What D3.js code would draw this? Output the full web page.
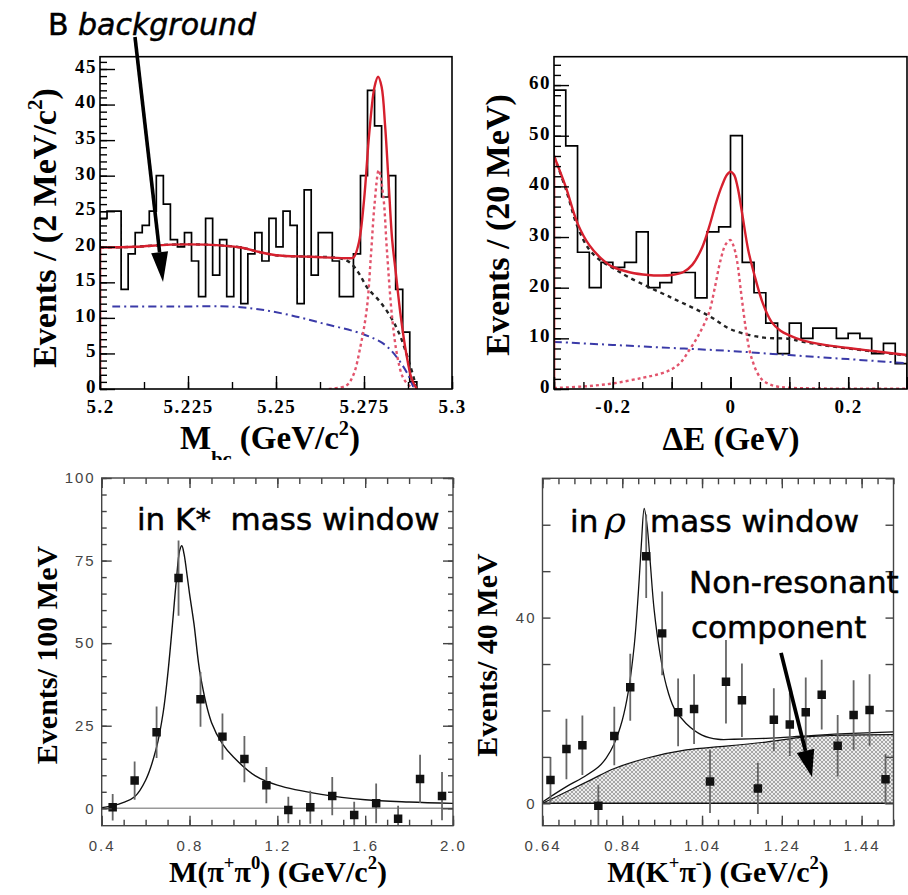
<!DOCTYPE html>
<html>
<head>
<meta charset="utf-8">
<script src="https://cdn.jsdelivr.net/npm/d3@7"></script>
<style>
  body { margin: 0; background: #fff; }
  svg { display: block; }
  text { white-space: pre; }
  .serif { font-family: "Liberation Serif", "Times New Roman", serif; font-weight: bold; }
  .hand { font-family: "DejaVu Sans", sans-serif; stroke: #000; stroke-width: 0.5; }
</style>
</head>
<body>
<svg id="chart" width="908" height="895"></svg>
<script>
// ---------- data ----------

// top left: Mbc histogram, 2 MeV bins from 5.200
const mbcCounts = [24, 25, 25, 14, 19, 22, 23, 25, 30, 26, 21, 20, 22, 18, 13, 24, 16, 21, 13, 20,
                   12, 19, 22, 18, 24, 20, 25, 23, 12, 28, 16, 22, 22, 18, 13, 13, 19, 30, 42, 37,
                   27, 30, 14, 8, 1];
const mbcFitX   = [5.2, 5.21, 5.22, 5.23, 5.24, 5.245, 5.25, 5.26, 5.27, 5.272, 5.2735, 5.275, 5.2765,
                   5.278, 5.279, 5.28, 5.281, 5.282, 5.283, 5.284, 5.2855, 5.287, 5.2885, 5.29];
const mbcFit    = [19.9, 20.0, 20.3, 20.3, 19.9, 19.3, 18.8, 18.6, 18.4, 18.5, 20.5, 26.5, 36,
                   42.5, 43.9, 42.5, 37, 29, 21, 16.5, 10, 5, 1.5, 0];
const mbcBkgX   = [5.2, 5.21, 5.22, 5.23, 5.24, 5.245, 5.25, 5.26, 5.268, 5.271, 5.2735, 5.276,
                   5.2795, 5.2825, 5.285, 5.288, 5.29];
const mbcBkg    = [19.9, 20.0, 20.3, 20.3, 19.9, 19.3, 18.8, 18.6, 18.4, 17.8, 16.3, 14.2,
                   12.3, 10.2, 7.8, 3.5, 0];
const mbcBBkgX  = [5.2035, 5.22, 5.24, 5.252, 5.2635, 5.2748, 5.281, 5.285, 5.2875, 5.289];
const mbcBBkg   = [11.6, 11.6, 11.5, 10.6, 9.2, 7.7, 6.2, 4.0, 2.0, 0.3];
const mbcSigX   = [5.265, 5.27, 5.272, 5.274, 5.2758, 5.277, 5.278, 5.2792, 5.2805, 5.2815, 5.283,
                   5.2845, 5.286, 5.2876, 5.289];
const mbcSig    = [0, 0.5, 2.0, 6.0, 11.3, 19, 26, 30.8, 27, 19.6, 10, 4.5, 1.7, 0.6, 0.1];

// top right: Delta E histogram, 20 MeV bins from -0.30
const deCounts = [59, 48, 27, 20, 25, 24, 25, 31, 20, 21, 23, 23, 18, 31, 32, 50, 25, 19, 13, 7,
                  13, 10, 12, 12, 10, 11, 10, 7, 9, 5];
const deFitX  = [-0.3, -0.28, -0.26, -0.24, -0.22, -0.2, -0.17, -0.14, -0.12, -0.10, -0.08, -0.065,
                 -0.048, -0.035, -0.025, -0.015, -0.006, 0, 0.006, 0.012, 0.02, 0.03, 0.04, 0.055,
                 0.07, 0.085, 0.10, 0.12, 0.16, 0.2, 0.25, 0.3];
const deFit   = [46, 39.9, 32.7, 28.4, 25.8, 24.1, 23.0, 22.5, 22.4, 22.5, 23.1, 24.5,
                 28, 32.5, 36.6, 40, 42.3, 42.9, 42.3, 39.9, 34.5, 27.5, 22.8, 16.9,
                 13.2, 11.5, 10.6, 9.7, 8.7, 8.1, 7.4, 6.7];
const deBkgX  = [-0.3, -0.28, -0.26, -0.24, -0.22, -0.2, -0.172, -0.1, -0.036, 0, 0.053, 0.1, 0.12,
                 0.16, 0.2, 0.25, 0.3];
const deBkg   = [46, 39.5, 32, 27.5, 25.3, 23.9, 22, 18, 14.4, 11.8, 10.2, 9.9, 9.4,
                 8.6, 8.0, 7.3, 6.6];
const deBBkgX = [-0.3, -0.2, -0.1, 0, 0.1, 0.2, 0.3];
const deBBkg  = [9.3, 8.7, 8.1, 7.5, 6.7, 5.9, 5.1];
const deSigX  = [-0.3, -0.25, -0.2, -0.15, -0.12, -0.1, -0.085, -0.07, -0.055, -0.037, -0.027, -0.017,
                 -0.008, 0, 0.005, 0.011, 0.018, 0.0255, 0.032, 0.037, 0.045, 0.054, 0.065, 0.079,
                 0.1, 0.15, 0.3];
const deSig   = [0.2, 0.5, 1.1, 2.2, 3.0, 3.9, 5.2, 7.7, 10.5, 14.9, 19.8, 25.4,
                 28.6, 29.4, 28.3, 25.4, 19, 12.3, 7.8, 5.7, 3.3, 1.8, 1.0, 0.5,
                 0.25, 0.1, 0.05];

// bottom left: M(pi+ pi0) in K* window
const pipiMass = [0.45, 0.55, 0.65, 0.75, 0.85, 0.95, 1.05, 1.15, 1.25, 1.35, 1.45, 1.55, 1.65, 1.75, 1.85, 1.95];
const pipiYield = [0.3, 8.4, 23, 69.7, 33, 21.7, 14.9, 7, -0.5, 0.3, 3.7, -2, 1.5, -3.2, 8.9, 3.7];
const pipiErr   = [4, 5.8, 7.8, 11.4, 8.3, 7, 7, 5.5, 4, 5, 5.8, 4, 6, 4, 7.3, 7.3];
const pipiFitX  = [0.4, 0.45, 0.5, 0.55, 0.6, 0.65, 0.68, 0.70, 0.72, 0.74, 0.755, 0.765, 0.775, 0.79,
                   0.8, 0.82, 0.85, 0.9, 0.95, 1.0, 1.1, 1.2, 1.4, 1.6, 1.8, 2.0];
const pipiFit   = [0.2, 0.8, 1.8, 3.5, 8.5, 18.5, 29, 40, 54, 69, 78, 79.5, 77, 70,
                   65, 56, 40, 26, 19.5, 15.5, 9.8, 7, 4.2, 2.6, 1.9, 1.5];

// bottom right: M(K+ pi-) in rho window
const kpiMass = [0.66, 0.70, 0.74, 0.78, 0.82, 0.86, 0.90, 0.94, 0.98, 1.02, 1.06, 1.10, 1.14, 1.18,
                 1.22, 1.26, 1.30, 1.34, 1.38, 1.42, 1.46, 1.50];
const kpiYield = [5.0, 11.7, 12.5, -0.5, 14.5, 25, 53.2, 36.6, 19.6, 20.3, 4.7, 26.2, 22.2, 3.2,
                  18, 17, 19.6, 23.4, 12.4, 19, 20.1, 5.2];
const kpiErr   = [5, 6.5, 6.4, 4.5, 6.3, 7.2, 9, 9, 7.3, 7.5, 6.8, 9, 7.9, 5.5,
                  6.8, 6.8, 7.5, 7.5, 6.6, 7.5, 7.7, 5.4];
const kpiFitX  = [0.64, 0.70, 0.74, 0.78, 0.80, 0.82, 0.84, 0.855, 0.87, 0.88, 0.888, 0.895, 0.902,
                  0.91, 0.92, 0.935, 0.95, 0.97, 1.0, 1.04, 1.08, 1.12, 1.2, 1.3, 1.4, 1.52];
const kpiFit   = [0.3, 3.6, 5.5, 7.8, 9.8, 12.9, 17.9, 24, 34, 45, 56, 63.5, 60,
                  52, 41.6, 32, 25.5, 20.5, 17.2, 14.7, 13.8, 13.8, 14.0, 14.5, 15.0, 15.4];
const kpiNonResX = [0.64, 0.7, 0.76, 0.82, 0.9, 1.0, 1.1, 1.2, 1.3, 1.4, 1.52];
const kpiNonRes  = [0, 2.5, 5, 7.5, 9.7, 11.5, 12.3, 13.2, 14.3, 14.7, 14.8];

// ---------- drawing ----------
const svg = d3.select("#chart");
const defs = svg.append("defs");

const red = "#d6202e", pink = "#e2546c", dark = "#222", blue = "#3a3aa8";

const hatch = defs.append("pattern").attr("id", "hatch")
  .attr("patternUnits", "userSpaceOnUse").attr("width", 4).attr("height", 4);
hatch.append("rect").attr("width", 4).attr("height", 4).attr("fill", "#ececec");
hatch.append("path").attr("d", "M0,0L4,4M4,0L0,4M-1,3L1,5M3,-1L5,1")
  .attr("stroke", "#777").attr("stroke-width", 0.6);

function makePanel(o) {
  const x = d3.scaleLinear().domain(o.xDomain).range([o.left, o.right]);
  const y = d3.scaleLinear().domain(o.yDomain).range([o.bottom, o.top]);
  defs.append("clipPath").attr("id", o.id + "-clip").append("rect")
    .attr("x", o.left).attr("y", o.top)
    .attr("width", o.right - o.left).attr("height", o.bottom - o.top);
  const g = svg.append("g");
  const plot = g.append("g").attr("clip-path", `url(#${o.id}-clip)`);
  return Object.assign({x, y, g, plot}, o);
}

// inward ticks; labelled ones get a font set directly on the group
function ticks(p, side, values, len, fmt, pad, font, color) {
  const s = (side === "left" || side === "right") ? p.y : p.x;
  const axisFn = {left: d3.axisLeft, right: d3.axisRight, top: d3.axisTop, bottom: d3.axisBottom}[side];
  const axis = axisFn(s).tickValues(values).tickSizeInner(-len).tickSizeOuter(0)
    .tickPadding(pad || 3).tickFormat(fmt || "");
  const pos = {left: [p.left, 0], right: [p.right, 0], top: [0, p.top], bottom: [0, p.bottom]}[side];
  const ag = p.g.append("g").attr("transform", `translate(${pos})`).call(axis);
  ag.select(".domain").remove();
  ag.selectAll("line").attr("stroke", color || "#000").attr("stroke-width", 1.4);
  if (font) {
    ag.attr("font-family", font.family).attr("font-size", font.size).attr("font-weight", font.weight)
      .attr("letter-spacing", font.spacing);
    ag.selectAll("text").attr("fill", color || "#000");
  }
  return ag;
}

const serifTick = {family: "Liberation Serif", size: 19, weight: "bold", spacing: 1.5};
const sansTick = {family: "Liberation Sans", size: 15, weight: "normal", spacing: 2};

function frame(p, color, w) {
  p.g.append("rect").attr("x", p.left).attr("y", p.top)
    .attr("width", p.right - p.left).attr("height", p.bottom - p.top)
    .attr("fill", "none").attr("stroke", color).attr("stroke-width", w);
}

function curve(p, xs, ys, color, width, dash) {
  const line = d3.line().x(d => p.x(d[0])).y(d => p.y(d[1])).curve(d3.curveCatmullRom.alpha(0.5));
  p.plot.append("path").attr("d", line(d3.zip(xs, ys)))
    .attr("fill", "none").attr("stroke", color).attr("stroke-width", width)
    .attr("stroke-dasharray", dash || null).attr("stroke-linejoin", "round");
}

function hist(p, start, width, counts) {
  const pts = [[start, 0]];
  counts.forEach((c, i) => pts.push([start + i * width, c]));
  pts.push([start + counts.length * width, counts[counts.length - 1]]);
  pts.push([start + counts.length * width, 0]);
  const line = d3.line().x(d => p.x(d[0])).y(d => p.y(d[1])).curve(d3.curveStepAfter);
  p.plot.append("path").attr("d", line(pts))
    .attr("fill", "none").attr("stroke", "#000").attr("stroke-width", 1.7);
}

function points(p, xs, ys, errs) {
  const data = d3.zip(xs, ys, errs);
  p.plot.selectAll(null).data(data).join("line")
    .attr("x1", d => p.x(d[0])).attr("x2", d => p.x(d[0]))
    .attr("y1", d => p.y(d[1] - d[2])).attr("y2", d => p.y(d[1] + d[2]))
    .attr("stroke", "#666").attr("stroke-width", 1.8);
  p.plot.selectAll(null).data(data).join("path")
    .attr("d", d3.symbol(d3.symbolSquare, 72))
    .attr("transform", d => `translate(${p.x(d[0])},${p.y(d[1])})`)
    .attr("fill", "#111");
}

// text with super/subscripts
function rich(parent, parts, fs, cls, subShift) {
  const t = parent.append("text").attr("class", cls).attr("font-size", fs);
  let shift = 0;
  parts.forEach(part => {
    const target = part.sup ? -0.42 * fs : part.sub ? (subShift || 0.3) * fs : 0;
    const ts = t.append("tspan").attr("dy", target - shift).text(part.t);
    if (part.sup || part.sub) ts.attr("font-size", fs * 0.62);
    shift = target;
  });
  return t;
}

function arrow(p, from, to, width, headLen, headHalf) {
  const x1 = p.x(from[0]), y1 = p.y(from[1]), x2 = p.x(to[0]), y2 = p.y(to[1]);
  const a = Math.atan2(y2 - y1, x2 - x1);
  const bx = x2 - headLen * Math.cos(a), by = y2 - headLen * Math.sin(a);
  const nx = -Math.sin(a) * headHalf, ny = Math.cos(a) * headHalf;
  svg.append("line").attr("x1", x1).attr("y1", y1).attr("x2", bx).attr("y2", by)
    .attr("stroke", "#000").attr("stroke-width", width);
  svg.append("path").attr("d", `M${x2},${y2}L${bx + nx},${by + ny}L${bx - nx},${by - ny}Z`)
    .attr("fill", "#000");
}

// ---- panel 1: Mbc ----
const p1 = makePanel({id: "p1", xDomain: [5.2, 5.3], yDomain: [0, 46.73],
                      left: 100, right: 452, top: 56.7, bottom: 389});
hist(p1, 5.2, 0.002, mbcCounts);
curve(p1, mbcBBkgX, mbcBBkg, blue, 2, "8,4,2,4");
curve(p1, mbcBkgX, mbcBkg, dark, 2.4, "4,4");
curve(p1, mbcSigX, mbcSig, pink, 2.4, "3,3");
curve(p1, [5.2, 5.2], [0, mbcFit[0]], red, 2.6);
curve(p1, mbcFitX, mbcFit, red, 2.4);
frame(p1, "#000", 1.6);
ticks(p1, "left", d3.range(0, 47, 1), 7);
ticks(p1, "left", d3.range(0, 46, 5), 15, d => d, 3, serifTick)
  .selectAll("text").attr("dy", "0.18em");
ticks(p1, "bottom", d3.range(0, 9).map(i => 5.2 + i * 0.0125), 7);
ticks(p1, "bottom", [5.2, 5.225, 5.25, 5.275, 5.3], 13, d => String(d), 11, serifTick);

rich(p1.g, [{t: "Events / (2 MeV/c"}, {t: "2", sup: true}, {t: ")"}], 34, "serif")
  .attr("text-anchor", "middle").attr("transform", "translate(56,228) rotate(-90)");
defs.append("clipPath").attr("id", "mbc-title-clip").append("rect")
  .attr("x", 0).attr("y", 400).attr("width", 454).attr("height", 60);
rich(p1.g, [{t: "M"}, {t: "bc", sub: true}, {t: " (GeV/c"}, {t: "2", sup: true}, {t: ")"}], 33, "serif", 0.5)
  .attr("text-anchor", "middle").attr("x", 270).attr("y", 449)
  .attr("clip-path", "url(#mbc-title-clip)");

// ---- panel 2: Delta E ----
const p2 = makePanel({id: "p2", xDomain: [-0.3, 0.3], yDomain: [0, 65.6],
                      left: 554, right: 907, top: 56.7, bottom: 389});
hist(p2, -0.3, 0.02, deCounts);
curve(p2, deBBkgX, deBBkg, blue, 2, "8,4,2,4");
curve(p2, deBkgX, deBkg, dark, 2.4, "4,4");
curve(p2, deSigX, deSig, pink, 2.4, "3,3");
curve(p2, [-0.3, -0.3], [0, deFit[0]], red, 2.6);
curve(p2, deFitX, deFit, red, 2.4);
frame(p2, "#000", 1.6);
ticks(p2, "left", d3.range(0, 66, 2), 7);
ticks(p2, "left", d3.range(0, 61, 10), 15, d => d, 3, serifTick)
  .selectAll("text").attr("dy", "0.18em");
ticks(p2, "bottom", d3.range(-6, 7).map(i => i * 0.05), 7);
ticks(p2, "bottom", [-0.3, -0.2, -0.1, 0, 0.1, 0.2, 0.3], 12);
ticks(p2, "bottom", [-0.2, 0, 0.2], 12, d => String(d), 11, serifTick);

rich(p2.g, [{t: "Events / (20 MeV)"}], 34, "serif")
  .attr("text-anchor", "middle").attr("transform", "translate(509,225) rotate(-90)");
rich(p2.g, [{t: "\u0394E (GeV)"}], 33, "serif")
  .attr("text-anchor", "middle").attr("x", 731).attr("y", 450);

// ---- panel 3: M(pi pi) ----
const p3 = makePanel({id: "p3", xDomain: [0.4, 2.0], yDomain: [-5.27, 100],
                      left: 101.7, right: 453, top: 478, bottom: 825.7});
p3.plot.append("line").attr("x1", p3.left).attr("x2", p3.right)
  .attr("y1", p3.y(0)).attr("y2", p3.y(0)).attr("stroke", "#999").attr("stroke-width", 1.6);
curve(p3, pipiFitX, pipiFit, "#111", 1.4);
points(p3, pipiMass, pipiYield, pipiErr);
frame(p3, "#444", 1.4);
["left", "right"].forEach(s => {
  ticks(p3, s, d3.range(0, 101, 5), 5, null, 3, null, "#444");
  ticks(p3, s, [0, 25, 50, 75, 100], 10, null, 3, null, "#444");
});
["top", "bottom"].forEach(s => {
  ticks(p3, s, d3.range(0, 17).map(i => 0.4 + i * 0.1), 6, null, 3, null, "#444");
  ticks(p3, s, [0.4, 0.8, 1.2, 1.6, 2.0], 10, null, 3, null, "#444");
});
ticks(p3, "left", [0, 25, 50, 75, 100], 0, d => d, 6, sansTick, "#444");
ticks(p3, "bottom", [0.4, 0.8, 1.2, 1.6, 2.0], 0, d3.format(".1f"), 15, sansTick, "#444");

rich(p3.g, [{t: "Events/ 100 MeV"}], 30, "serif")
  .attr("text-anchor", "middle").attr("transform", "translate(57,655) rotate(-90)");
rich(p3.g, [{t: "M(\u03c0"}, {t: "+", sup: true}, {t: "\u03c0"}, {t: "0", sup: true},
            {t: ") (GeV/c"}, {t: "2", sup: true}, {t: ")"}], 30, "serif")
  .attr("text-anchor", "middle").attr("x", 278).attr("y", 882);
p3.g.append("text").attr("class", "hand").attr("font-size", 31)
  .attr("x", p3.x(0.5607)).attr("y", p3.y(84.3)).text("in K*\u00a0 mass window");

// ---- panel 4: M(K pi) ----
const p4 = makePanel({id: "p4", xDomain: [0.64, 1.52], yDomain: [-4.82, 70],
                      left: 542.5, right: 893.5, top: 478.3, bottom: 825.7});
const areaNR = d3.area().x(d => p4.x(d[0])).y0(p4.y(0)).y1(d => p4.y(d[1]))
  .curve(d3.curveCatmullRom.alpha(0.5));
p4.plot.append("path").attr("d", areaNR(d3.zip(kpiNonResX, kpiNonRes)))
  .attr("fill", "url(#hatch)");
curve(p4, kpiNonResX, kpiNonRes, "#111", 1.2);
p4.plot.append("line").attr("x1", p4.left).attr("x2", p4.right)
  .attr("y1", p4.y(0)).attr("y2", p4.y(0)).attr("stroke", "#111").attr("stroke-width", 1.4);
curve(p4, kpiFitX, kpiFit, "#111", 1.3);
points(p4, kpiMass, kpiYield, kpiErr);
frame(p4, "#444", 1.4);
["left", "right"].forEach(s => ticks(p4, s, d3.range(0, 71, 10), 8, null, 3, null, "#444"));
["top", "bottom"].forEach(s => {
  ticks(p4, s, d3.range(0, 23).map(i => 0.64 + i * 0.04), 6, null, 3, null, "#444");
  ticks(p4, s, [0.64, 0.84, 1.04, 1.24, 1.44], 10, null, 3, null, "#444");
});
ticks(p4, "left", [0, 40], 0, d => d, 6, sansTick, "#444");
ticks(p4, "bottom", [0.64, 0.84, 1.04, 1.24, 1.44], 0, d3.format(".2f"), 15, sansTick, "#444");

rich(p4.g, [{t: "Events/ 40 MeV"}], 30, "serif")
  .attr("text-anchor", "middle").attr("transform", "translate(497,655) rotate(-90)");
rich(p4.g, [{t: "M(K"}, {t: "+", sup: true}, {t: "\u03c0"}, {t: "-", sup: true},
            {t: ") (GeV/c"}, {t: "2", sup: true}, {t: ")"}], 30, "serif")
  .attr("text-anchor", "middle").attr("x", 718).attr("y", 882);
p4.g.append("text").attr("class", "hand").attr("font-size", 31)
  .attr("x", p4.x(0.709)).attr("y", p4.y(58.5)).text("in");
p4.g.append("text").attr("font-family", "DejaVu Serif").attr("font-style", "italic").attr("font-size", 36)
  .attr("x", p4.x(0.796)).attr("y", p4.y(58.5)).text("\u03c1");
p4.g.append("text").attr("class", "hand").attr("font-size", 31)
  .attr("x", p4.x(0.9096)).attr("y", p4.y(58.5)).text("mass window");
p4.g.append("text").attr("class", "hand").attr("font-size", 31)
  .attr("x", p4.x(1.0074)).attr("y", p4.y(45.3)).text("Non-resonant");
p4.g.append("text").attr("class", "hand").attr("font-size", 31)
  .attr("x", p4.x(1.0124)).attr("y", p4.y(35.6)).text("component");

// ---- annotations ----
svg.append("text").attr("class", "hand").attr("font-size", 30)
  .attr("x", p1.x(5.1852)).attr("y", p1.y(49.8)).text("B ")
  .append("tspan").attr("font-style", "italic").text("background");
arrow(p1, [5.20994, 49.5], [5.2179, 15.05], 3.6, 30, 8.5);
arrow(p4, [1.238, 32.4], [1.3157, 5.66], 3.8, 27, 9);
</script>
</body>
</html>
